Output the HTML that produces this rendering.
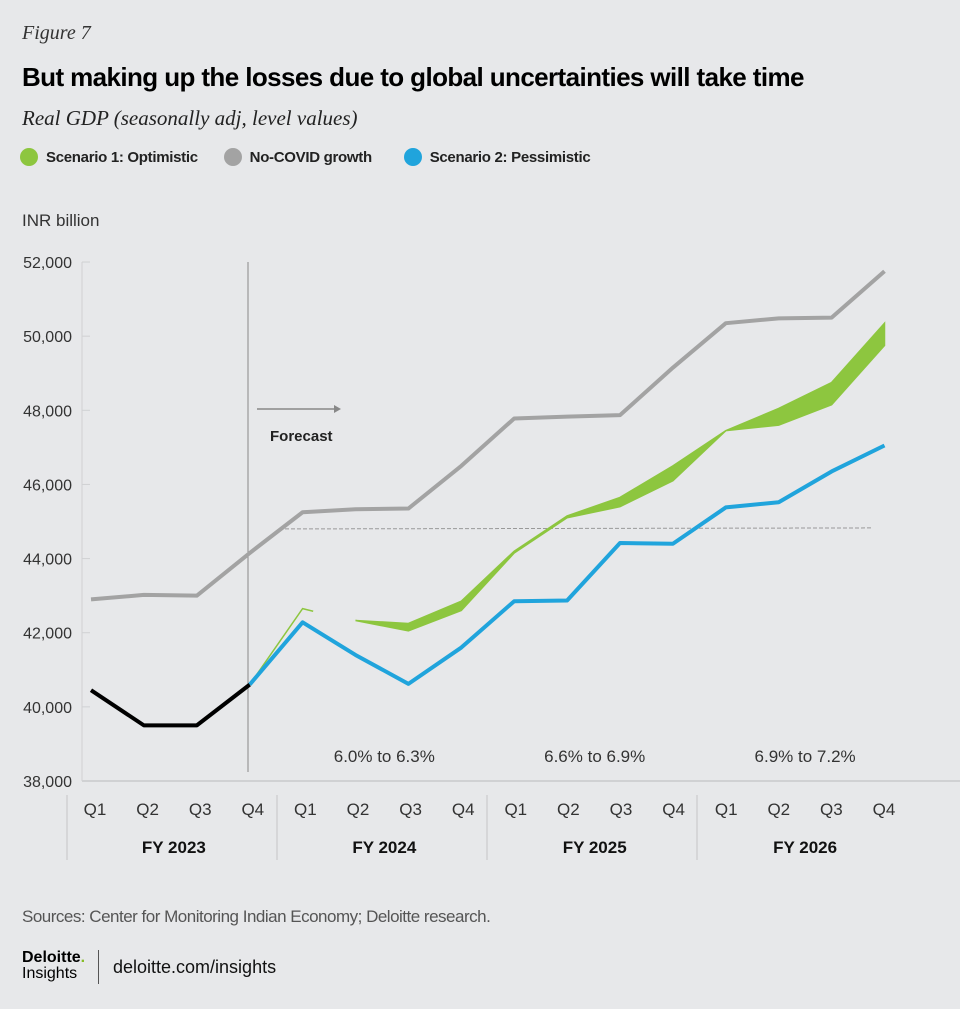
<!DOCTYPE html>
<html><head><meta charset="utf-8"><style>
body{margin:0;width:960px;height:1009px;background:#e7e8ea;font-family:"Liberation Sans",sans-serif;overflow:hidden;position:relative}
.a{position:absolute;white-space:nowrap}
</style></head><body>
<div class="a" style="left:22px;top:22px;font:italic 20px 'Liberation Serif',serif;color:#333">Figure 7</div>
<div class="a" style="left:22px;top:62px;font:bold 26px 'Liberation Sans',sans-serif;color:#000;letter-spacing:-0.6px">But making up the losses due to global uncertainties will take time</div>
<div class="a" style="left:22px;top:106px;font:italic 21px 'Liberation Serif',serif;color:#222">Real GDP (seasonally adj, level values)</div>
<div class="a" style="left:20px;top:148px;font:bold 15px 'Liberation Sans',sans-serif;color:#222;letter-spacing:-0.3px">
<span><span style="display:inline-block;width:18px;height:18px;border-radius:9px;background:#8dc63f;vertical-align:-4px;margin-right:8px"></span>Scenario 1: Optimistic</span>
<span style="margin-left:22px"><span style="display:inline-block;width:18px;height:18px;border-radius:9px;background:#a3a3a3;vertical-align:-4px;margin-right:8px"></span>No-COVID growth</span>
<span style="margin-left:28px"><span style="display:inline-block;width:18px;height:18px;border-radius:9px;background:#20a4dc;vertical-align:-4px;margin-right:8px"></span>Scenario 2: Pessimistic</span>
</div>
<svg id="chart" class="a" style="left:0;top:0" width="960" height="900"></svg>
<div class="a" style="left:22px;top:907px;font-size:17px;color:#555;letter-spacing:-0.5px">Sources: Center for Monitoring Indian Economy; Deloitte research.</div>
<div class="a" style="left:22px;top:950px;line-height:16px;color:#000"><b style="font-size:16px">Deloitte<span style="color:#86bc25">.</span></b><br><span style="font-size:16px">Insights</span></div>
<div class="a" style="left:98px;top:950px;width:1px;height:34px;background:#555"></div>
<div class="a" style="left:113px;top:957px;font-size:18px;color:#111">deloitte.com/insights</div>
<script>
const quarters=['Q1','Q2','Q3','Q4','Q1','Q2','Q3','Q4','Q1','Q2','Q3','Q4','Q1','Q2','Q3','Q4'];
const years=['FY 2023','FY 2024','FY 2025','FY 2026'];
const yTicks=[38000,40000,42000,44000,46000,48000,50000,52000];
const actual=[40450,39500,39500,40600];
const noCovid=[42900,43020,43000,44150,45250,45330,45350,46500,47780,47830,47870,49150,50350,50480,50500,51750];
const pessimistic=[null,null,null,40600,42280,41400,40620,41600,42850,42870,44420,44400,45380,45520,46350,47050];
const optLow=[null,null,null,null,null,42330,42050,42600,44150,45100,45400,46100,47450,47600,48150,49750];
const optHigh=[null,null,null,null,null,42330,42250,42850,44200,45150,45650,46500,47450,48050,48750,50350];
const optEarly=[40600,42650,42580];
const growthLabels=['6.0% to 6.3%','6.6% to 6.9%','6.9% to 7.2%'];
const growthRef=44800;
const NS='http://www.w3.org/2000/svg',svg=document.getElementById('chart');
const x=i=>91+i*52.9, lx=i=>95+i*52.6, y=v=>781-(v-38000)/2000*74.14;
function mk(t,a,txt){const e=document.createElementNS(NS,t);for(const k in a)e.setAttribute(k,a[k]);if(txt!=null)e.textContent=txt;svg.appendChild(e);return e;}
let e;
e=mk('text',{x:22,y:226,'font-size':17,fill:'#333'},'INR billion');

yTicks.forEach(v=>{e=mk('text',{x:72,y:y(v)+6,'text-anchor':'end','font-size':16,fill:'#333'},v.toLocaleString('en-US'));

e=mk('line',{x1:82,y1:y(v),x2:90,y2:y(v),stroke:'#d0d1d3','stroke-width':1});
});
e=mk('line',{x1:82,y1:781,x2:960,y2:781,stroke:'#d0d1d3','stroke-width':2});

e=mk('line',{x1:82,y1:262,x2:82,y2:781,stroke:'#d0d1d3','stroke-width':1});

quarters.forEach((q,i)=>{e=mk('text',{x:lx(i),y:815,'text-anchor':'middle','font-size':17,fill:'#333'},q);
});
years.forEach((t,j)=>{const sx=67+j*210;e=mk('line',{x1:sx,y1:795,x2:sx,y2:860,stroke:'#d0d1d3','stroke-width':1.5});

e=mk('text',{x:(lx(j*4)+lx(j*4+3))/2,y:853,'text-anchor':'middle','font-size':17,'font-weight':'bold',fill:'#111'},t);
});
growthLabels.forEach((t,j)=>{e=mk('text',{x:(lx(4+j*4)+lx(7+j*4))/2,y:762,'text-anchor':'middle','font-size':17,fill:'#333'},t);
});
e=mk('line',{x1:248,y1:262,x2:248,y2:772,stroke:'#888','stroke-width':1});

e=mk('line',{x1:257,y1:409,x2:334,y2:409,stroke:'#888','stroke-width':1.5});

e=mk('path',{d:'M334,405 L341,409 L334,413 Z',fill:'#888'});

e=mk('text',{x:270,y:441,'font-size':15,'font-weight':'bold',fill:'#222'},'Forecast');

e=mk('line',{x1:285,y1:y(growthRef),x2:872,y2:y(growthRef)-1,stroke:'#999','stroke-width':1,'stroke-dasharray':'4,2'});

const pts=(arr,off=0)=>arr.map((v,i)=>v==null?null:x(i+off)+','+y(v)).filter(p=>p).join(' ');
e=mk('polyline',{points:pts(noCovid),fill:'none',stroke:'#a3a3a3','stroke-width':4,'stroke-linejoin':'round'});

e=mk('polyline',{points:optEarly.map((v,i)=>(x(3+i*0.5*(i>1?1.2:2)))+','+y(v)).join(' '),fill:'none',stroke:'#8dc63f','stroke-width':1.5});

const hi=[],lo=[];optHigh.forEach((v,i)=>{if(v!=null){hi.push(x(i)+','+y(v));lo.unshift(x(i)+','+y(optLow[i]));}});
e=mk('polygon',{points:hi.concat(lo).join(' '),fill:'#8dc63f',stroke:'#8dc63f','stroke-width':1.5});

e=mk('polyline',{points:pts(pessimistic),fill:'none',stroke:'#20a4dc','stroke-width':4,'stroke-linejoin':'round'});

e=mk('polyline',{points:pts(actual),fill:'none',stroke:'#000','stroke-width':4,'stroke-linejoin':'round'});

</script>
</body></html>
